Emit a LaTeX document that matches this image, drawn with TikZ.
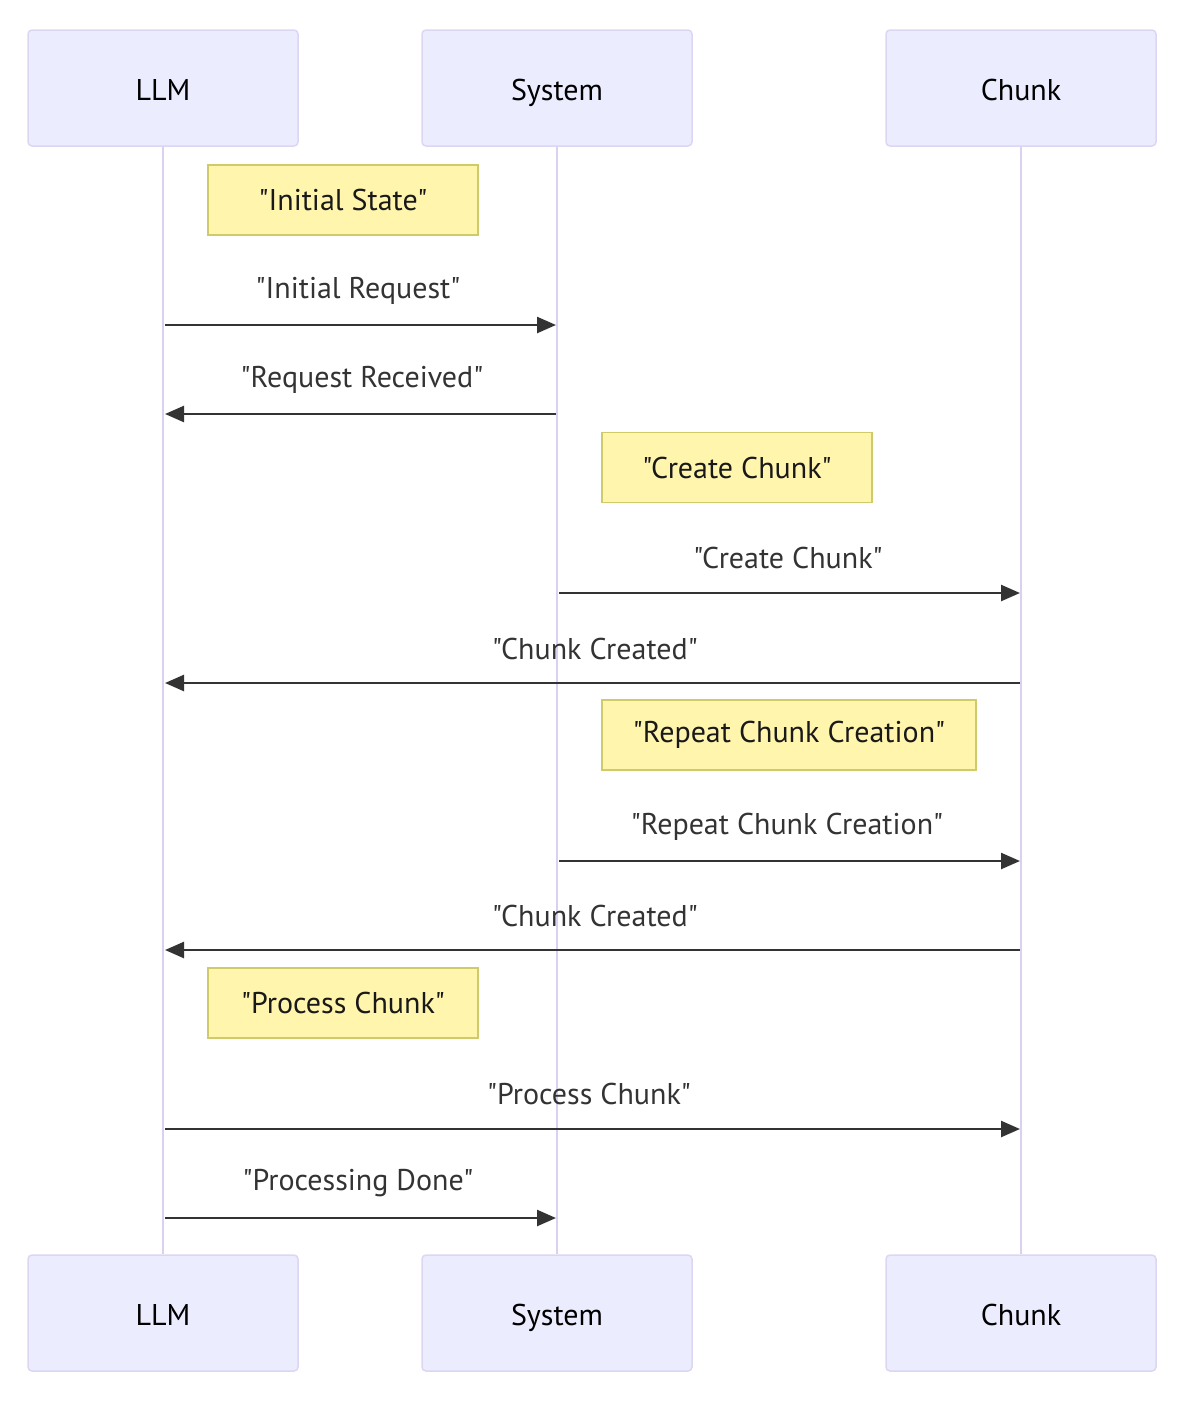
\documentclass[tikz,border=0pt]{standalone}
\usepackage{fontspec}
\setmainfont{PT Sans}[Ligatures=TeXOff]
\usetikzlibrary{arrows.meta}
\definecolor{actfill}{HTML}{ECECFF}
\definecolor{actline}{HTML}{DDD6F3}
\definecolor{lifeline}{HTML}{D9D0F2}
\definecolor{notefill}{HTML}{FFF5AD}
\definecolor{noteline}{HTML}{CFCA6A}
\definecolor{msg}{HTML}{333333}
\tikzset{
  actor/.style={draw=actline, line width=1.5pt, fill=actfill, rounded corners=4pt,
    minimum width=270pt, minimum height=116pt, inner sep=0pt,
    text height=25pt, text depth=0pt,
    font=\fontsize{30}{35}\selectfont, text=black},
  notebox/.style={draw=noteline, line width=1.5pt, fill=notefill,
    minimum height=70pt, inner sep=0pt, font=\fontsize{30}{35}\selectfont, text=black!90},
  life/.style={draw=lifeline, line width=2.5pt},
  msgline/.style={draw=msg, line width=2.5pt, -{Triangle[length=19pt,width=16pt]}},
  msglabel/.style={font=\fontsize{30}{35}\selectfont, text=msg, inner sep=0pt}
}
\begin{document}
\begin{tikzpicture}[x=1pt,y=-1pt]
\useasboundingbox (0,0) rectangle (1188,1406);
% actors
\node[actor] (llmT) at (163,88) {LLM};
\node[actor] (sysT) at (557,88) {System};
\node[actor] (chkT) at (1021,88) {Chunk};
\node[actor] (llmB) at (163,1313) {LLM};
\node[actor] (sysB) at (557,1313) {System};
\node[actor] (chkB) at (1021,1313) {Chunk};
% lifelines
\draw[life] (llmT.south) -- (llmB.north);
\draw[life] (sysT.south) -- (sysB.north);
\draw[life] (chkT.south) -- (chkB.north);
% notes
\node[notebox, minimum width=270pt] (n1) at (343,200) {"Initial State"};
\node[notebox, minimum width=270pt] (n2) at (737,467.5) {"Create Chunk"};
\node[notebox, minimum width=374pt] (n3) at (789,735) {"Repeat Chunk Creation"};
\node[notebox, minimum width=270pt] (n4) at (343,1003) {"Process Chunk"};
% message endpoints
\coordinate (a1) at (165,325);  \coordinate (b1) at (556,325);
\coordinate (a2) at (556,414);  \coordinate (b2) at (165,414);
\coordinate (a3) at (559,593);  \coordinate (b3) at (1020,593);
\coordinate (a4) at (1020,683); \coordinate (b4) at (165,683);
\coordinate (a5) at (559,861);  \coordinate (b5) at (1020,861);
\coordinate (a6) at (1020,950); \coordinate (b6) at (165,950);
\coordinate (a7) at (165,1129); \coordinate (b7) at (1020,1129);
\coordinate (a8) at (165,1218); \coordinate (b8) at (556,1218);
% messages
\draw[msgline] (a1) -- (b1);
\draw[msgline] (a2) -- (b2);
\draw[msgline] (a3) -- (b3);
\draw[msgline] (a4) -- (b4);
\draw[msgline] (a5) -- (b5);
\draw[msgline] (a6) -- (b6);
\draw[msgline] (a7) -- (b7);
\draw[msgline] (a8) -- (b8);
% labels
\node[msglabel] (t1) at (358,291) {"Initial Request"};
\node[msglabel] (t2) at (362,380) {"Request Received"};
\node[msglabel] (t3) at (788,558) {"Create Chunk"};
\node[msglabel] (t4) at (595,649) {"Chunk Created"};
\node[msglabel] (t5) at (787,827) {"Repeat Chunk Creation"};
\node[msglabel] (t6) at (595,916) {"Chunk Created"};
\node[msglabel] (t7) at (589,1094) {"Process Chunk"};
\node[msglabel] (t8) at (358,1183) {"Processing Done"};
\end{tikzpicture}
\end{document}
